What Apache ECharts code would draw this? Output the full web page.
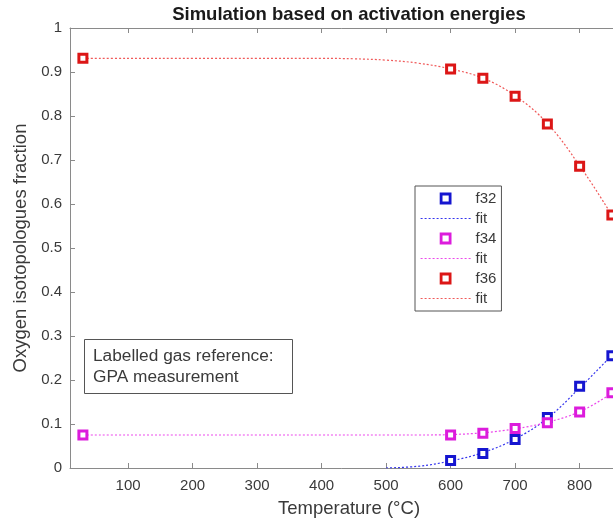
<!DOCTYPE html>
<html>
<head>
<meta charset="utf-8">
<script src="https://cdn.jsdelivr.net/npm/echarts@6/dist/echarts.min.js"></script>
<style>
  html, body { margin: 0; padding: 0; background: #fff; }
  #chart { width: 613px; height: 523px; }
</style>
</head>
<body>
<div id="chart"></div>
<script>
// Measured isotopologue fractions (temperature in °C)
const tempsAll = [30, 600, 650, 700, 750, 800, 850];
const tempsHot = [600, 650, 700, 750, 800, 850];
const f32 = [0.017, 0.033, 0.065, 0.115, 0.186, 0.255];
const f34 = [0.075, 0.075, 0.079, 0.090, 0.103, 0.127, 0.171];
const f36 = [0.931, 0.907, 0.886, 0.845, 0.782, 0.686, 0.575];

// Simulated (activation-energy model) curves
const fitTemps = [30, 100, 200, 300, 400, 450, 500, 550, 600, 650, 700, 750, 800, 850, 900];
const fit32 = [null, null, null, null, null, null, 0.000, 0.004, 0.016, 0.035, 0.066, 0.113, 0.182, 0.256, 0.330];
const fit34 = [0.075, 0.075, 0.075, 0.075, 0.075, 0.075, 0.075, 0.075, 0.076, 0.080, 0.089, 0.104, 0.128, 0.170, 0.220];
const fit36 = [0.931, 0.931, 0.931, 0.931, 0.931, 0.930, 0.927, 0.920, 0.907, 0.886, 0.846, 0.783, 0.687, 0.575, 0.460];

const xTickLabels = [100, 200, 300, 400, 500, 600, 700, 800];

const FONT = '"Liberation Sans", Arial, Helvetica, sans-serif';
const AXIS_COLOR = '#8a8a8a';
const TEXT_COLOR = '#3a3a3a';

const BLUE = '#1515d0', BLUE_FIT = '#3434ee';
const MAG = '#dc1cdc', MAG_FIT = '#ec48ec';
const RED = '#dc1616', RED_FIT = '#f05a5a';

// square used for the marker entries of the legend
const SQUARE_ICON = 'path://M0,0h10v10h-10z';

const pairs = (xs, ys) => xs.map((x, i) => [x, ys[i]]).filter(p => p[1] !== null);

function markerSeries(name, xs, ys, color) {
  return {
    name, type: 'scatter', z: 5,
    data: pairs(xs, ys),
    symbol: 'rect', symbolSize: 8,
    itemStyle: { color: '#ffffff', borderColor: color, borderWidth: 3, opacity: 1 }
  };
}
function fitSeries(name, ys, color) {
  return {
    name, type: 'line', z: 3,
    data: pairs(fitTemps, ys),
    symbol: 'circle', symbolSize: 0, showSymbol: false,
    smooth: 0.4,
    itemStyle: { color },
    lineStyle: { color, width: 1.2, type: [2, 2] }
  };
}

const markerLegend = (name, color) => ({
  name, icon: SQUARE_ICON,
  itemStyle: { color: '#ffffff', borderColor: color, borderWidth: 2.8 }
});
const fitLegend = (name, color) => ({
  name,
  itemStyle: { opacity: 0 },
  lineStyle: { color, width: 1.2, type: [2, 2] }
});

const chart = echarts.init(document.getElementById('chart'), null, { renderer: 'canvas' });

const xAxisCommon = {
  type: 'value', min: 10, max: 875, splitNumber: 9,
  axisLine: { show: true, onZero: false, lineStyle: { color: AXIS_COLOR, width: 1 } },
  axisTick: {
    show: true, inside: true, length: 5,
    lineStyle: { color: AXIS_COLOR },
    customValues: xTickLabels
  },
  splitLine: { show: false }
};

chart.setOption({
  animation: false,
  backgroundColor: '#ffffff',
  grid: { left: 70, top: 28, bottom: 55, width: 558, containLabel: false, outerBoundsMode: 'none' },
  xAxis: [
    Object.assign({}, xAxisCommon, {
      position: 'bottom',
      name: 'Temperature (°C)', nameLocation: 'middle', nameGap: 31,
      nameTextStyle: { fontFamily: FONT, fontSize: 18.5, color: TEXT_COLOR },
      axisLabel: {
        show: true, margin: 10, fontFamily: FONT, fontSize: 15, color: TEXT_COLOR,
        customValues: xTickLabels
      }
    }),
    Object.assign({}, xAxisCommon, {
      position: 'top',
      axisLabel: { show: false }
    })
  ],
  yAxis: {
    type: 'value', min: 0, max: 1, interval: 0.1,
    name: 'Oxygen isotopologues fraction', nameLocation: 'middle', nameGap: 38,
    nameTextStyle: { fontFamily: FONT, fontSize: 18.5, color: TEXT_COLOR },
    axisLine: { show: true, lineStyle: { color: AXIS_COLOR, width: 1 } },
    axisTick: { show: true, inside: true, length: 5, lineStyle: { color: AXIS_COLOR } },
    axisLabel: {
      fontFamily: FONT, fontSize: 15, color: TEXT_COLOR, margin: 8,
      formatter: v => String(Math.round(v * 10) / 10)
    },
    splitLine: { show: false }
  },
  legend: {
    orient: 'vertical', left: 415, top: 186,
    padding: [5, 5, 5, 5],
    itemWidth: 50, itemHeight: 9, itemGap: 5,
    symbolKeepAspect: true,
    backgroundColor: '#ffffff',
    borderColor: '#555555', borderWidth: 1, borderRadius: 0,
    selectedMode: false,
    textStyle: { fontFamily: FONT, fontSize: 15, color: TEXT_COLOR, lineHeight: 15 },
    data: [
      markerLegend('f32', BLUE),
      fitLegend('fit', BLUE_FIT),
      markerLegend('f34', MAG),
      fitLegend('fit ', MAG_FIT),
      markerLegend('f36', RED),
      fitLegend('fit  ', RED_FIT)
    ]
  },
  graphic: [
    {
      type: 'text', z: 100,
      style: {
        x: 349, y: 15, text: 'Simulation based on activation energies',
        font: 'bold 18.5px ' + FONT, fill: '#1a1a1a',
        align: 'center', verticalAlign: 'middle',
        textAlign: 'center', textVerticalAlign: 'middle'
      }
    },
    {
      type: 'rect', z: 100, left: 84, top: 339,
      shape: { width: 208, height: 54 },
      style: { fill: '#ffffff', stroke: '#555555', lineWidth: 1 }
    },
    {
      type: 'text', z: 101, left: 93, top: 346,
      style: {
        text: 'Labelled gas reference:\nGPA measurement',
        font: '17.3px ' + FONT, fill: TEXT_COLOR, lineHeight: 21
      }
    }
  ],
  series: [
    fitSeries('fit', fit32, BLUE_FIT),
    fitSeries('fit ', fit34, MAG_FIT),
    fitSeries('fit  ', fit36, RED_FIT),
    markerSeries('f32', tempsHot, f32, BLUE),
    markerSeries('f34', tempsAll, f34, MAG),
    markerSeries('f36', tempsAll, f36, RED)
  ]
});
</script>
</body>
</html>
